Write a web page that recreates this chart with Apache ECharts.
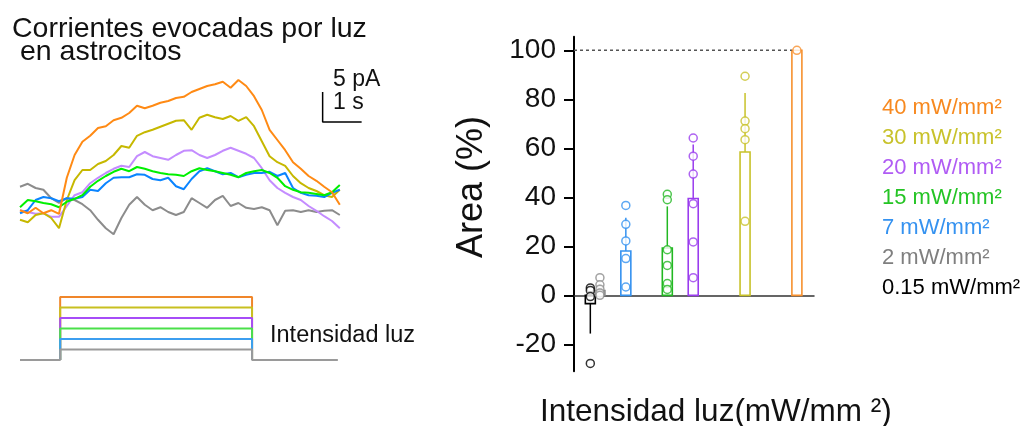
<!DOCTYPE html>
<html>
<head>
<meta charset="utf-8">
<script src="https://cdn.jsdelivr.net/npm/echarts@6/dist/echarts.min.js"></script>
<style>
  html, body { margin: 0; padding: 0; background: #fff; }
  #main { width: 1024px; height: 426px; }
</style>
</head>
<body>
<div id="main"></div>
<script>
// registros (pA) cada 0.2 s
const times = [0, 0.2, 0.4, 0.6, 0.8, 1.0, 1.2, 1.4, 1.6, 1.8, 2.0, 2.2, 2.4, 2.6, 2.8, 3.0, 3.2, 3.4, 3.6, 3.8, 4.0,
  4.2, 4.4, 4.6, 4.8, 5.0, 5.2, 5.4, 5.6, 5.8, 6.0, 6.2, 6.4, 6.6, 6.8, 7.0, 7.2, 7.4, 7.6, 7.8, 8.0, 8.2];
const traceGray = [4.2, 4.7, 4.0, 3.7, 2.3, 1.5, 2.3, 2.0, 1.3, 0.3, -1.3, -2.7, -3.7, -1.0, 1.2, 2.5, 1.2, 0.3, 0.8, 0, -0.5,
  0, 2.3, 1.5, 0.7, 2.0, 2.7, 1.0, 1.5, 0.7, 0.5, 0.8, 0.3, -2.2, 0.2, 0.3, 0, 0.3, 0, 0.2, 0.3, -0.5];
const traceBlue = [-0.2, 0.3, 2.0, 2.5, 2.3, 1.8, 2.3, 2.2, 2.5, 3.7, 3.5, 4.8, 5.7, 5.8, 5.8, 6.3, 6.2, 5.5, 5.3, 5.7, 4.3,
  3.8, 5.5, 6.8, 7.3, 6.8, 6.3, 6.5, 5.8, 6.2, 6.5, 6.5, 6.7, 6.0, 6.5, 4.0, 3.2, 2.8, 2.7, 2.5, 3.2, 3.7];
const traceGreen = [0.8, 2.0, 1.8, 1.5, 1.3, 0.8, 1.7, 2.2, 2.8, 4.2, 5.2, 6.0, 6.7, 7.2, 6.8, 7.5, 7.2, 6.8, 6.5, 6.3, 6.2,
  6.0, 6.8, 7.3, 7.0, 6.8, 6.5, 6.2, 5.8, 6.5, 6.8, 7.0, 6.5, 5.7, 4.3, 3.7, 3.3, 3.2, 3.0, 2.8, 3.3, 4.5];
const tracePurple = [0.3, 0, -0.3, -0.2, -0.8, -0.8, 1.0, 2.8, 3.3, 4.8, 5.7, 6.5, 7.2, 7.7, 7.5, 9.3, 10.0, 9.3, 9.0, 8.7, 9.5,
  10.2, 10.3, 9.5, 9.0, 9.5, 10.2, 10.7, 10.2, 9.7, 9.0, 7.3, 5.3, 4.0, 3.2, 2.5, 2.0, 1.0, 0.2, -0.7, -1.5, -2.7];
const traceYellow = [-1.3, -1.7, -0.5, -0.2, -1.0, -2.7, 2.0, 5.3, 7.0, 7.0, 8.0, 8.5, 9.5, 11.0, 10.7, 12.7, 13.3, 13.7, 14.2, 14.7, 15.2,
  15.3, 13.7, 15.7, 16.2, 15.8, 15.5, 16.0, 15.2, 15.8, 14.3, 11.8, 9.3, 8.3, 7.7, 6.0, 4.8, 4.0, 3.5, 2.8, 2.5, 3.7];
const traceOrange = [0.3, -0.2, 0.7, -0.2, 0.3, -0.3, 5.7, 9.5, 11.7, 12.7, 14.0, 14.3, 15.3, 15.7, 16.5, 17.7, 17.3, 17.7, 18.2, 18.5, 19.0,
  19.2, 20.0, 20.5, 21.0, 21.3, 21.7, 20.7, 22.0, 21.0, 19.3, 17.0, 13.7, 12.0, 10.3, 8.3, 7.2, 6.0, 5.2, 4.2, 3.3, 1.2];

// pulso de luz
const stimOn = 1.03;
const stimOff = 5.95;
const stimEnd = 8.15;
const stimLevels = [6, 5, 4, 3, 2, 1];   // naranja ... gris

// barra de escala: 1 s, 5 pA
const scaleT = 7.76;
const scalePA = 15;

// area (%)
const intensities = [0.15, 2, 7, 15, 20, 30, 40];
const areaMean = [-3.4, 2, 18.1, 19.3, 39.5, 58.5, 100];
const areaSD = [12.2, 2.5, 13.6, 17, 22, 24.1, 0];
const areaPoints = [
  [3, 2, -0.5, -27.8],
  [7.2, 4.3, 2.5, 1, 0],
  [36.7, 29, 22.2, 15, 3.4],
  [41.2, 39, 18.6, 12.2, 4.8, 2.4],
  [64.2, 56.8, 49.5, 37.4, 21.8, 7.2],
  [89.4, 71.1, 68, 63.5, 30.2],
  [100]
];
const yTicks = [-20, 0, 20, 40, 60, 80, 100];

const legendLabels = ['40 mW/mm²', '30 mW/mm²', '20 mW/mm²', '15 mW/mm²', '7 mW/mm²', '2 mW/mm²', '0.15 mW/mm²'];

const barColors = ['#000000', '#8c8c8c', '#3592f0', '#22b822', '#9a3cee', '#c8c22a', '#f7902e'];
const legendColors = ['#f7891f', '#c8c22b', '#b05cf4', '#24c424', '#3592f0', '#7f7f7f', '#000000'];
const traceColors = { gray: '#8c8c8c', blue: '#0a84ff', green: '#00f000', purple: '#c48cff', yellow: '#c6b800', orange: '#ff8a14' };
const stimColors = ['#f0862a', '#c8c020', '#a64cf7', '#4ae04a', '#3c9ef0', '#9a9a9a'];

const FONT = 'Liberation Sans, Arial, Helvetica, sans-serif';

function zipT(vals) {
  return vals.map((v, i) => [times[i], v]);
}

const myChart = echarts.init(document.getElementById('main'));

const series = [];

// trazas
[['gray', traceGray], ['purple', tracePurple], ['yellow', traceYellow], ['blue', traceBlue], ['green', traceGreen], ['orange', traceOrange]]
  .forEach(([name, vals]) => {
    series.push({
      type: 'line', xAxisIndex: 0, yAxisIndex: 0, data: zipT(vals),
      symbol: 'none', lineStyle: { color: traceColors[name], width: 2 }, silent: true
    });
  });

// barra de escala
series.push({
  type: 'line', xAxisIndex: 0, yAxisIndex: 0, symbol: 'none', silent: true,
  data: [[scaleT, scalePA + 5], [scaleT, scalePA], [scaleT + 1, scalePA]],
  lineStyle: { color: '#000', width: 1.5 }
});

// pulsos de luz
stimLevels.forEach((lv, i) => {
  let data = [[stimOn, 0], [stimOn, lv], [stimOff, lv], [stimOff, 0]];
  if (lv === 1) data = [[0, 0]].concat(data, [[stimEnd, 0]]);
  series.push({
    type: 'line', xAxisIndex: 1, yAxisIndex: 1, data: data, symbol: 'none', silent: true,
    lineStyle: { color: stimColors[i], width: 2 }
  });
});

// linea punteada 100 %
series.push({
  type: 'line', xAxisIndex: 2, yAxisIndex: 2, symbol: 'none', silent: true,
  data: [[-3, 100], [39, 100]],
  lineStyle: { color: '#555', width: 1.5, type: [3, 3] }
});

// barras huecas + error
series.push({
  type: 'custom', xAxisIndex: 2, yAxisIndex: 2, silent: true,
  data: intensities.map((x, i) => [x, areaMean[i], areaSD[i]]),
  renderItem: function (params, api) {
    const x = api.value(0), m = api.value(1), sd = api.value(2);
    const c = barColors[params.dataIndex];
    const p0 = api.coord([x, 0]);
    const p1 = api.coord([x, m]);
    const pe = api.coord([x, m < 0 ? m - sd : m + sd]);
    const w = 10;
    return {
      type: 'group',
      children: [
        { type: 'line', shape: { x1: p1[0], y1: p1[1], x2: pe[0], y2: pe[1] }, style: { stroke: c, lineWidth: 1.5 } },
        {
          type: 'rect',
          shape: { x: p0[0] - w / 2, y: Math.min(p0[1], p1[1]), width: w, height: Math.abs(p1[1] - p0[1]) },
          style: { fill: 'rgba(255,255,255,0)', stroke: c, lineWidth: 1.6 }
        }
      ]
    };
  }
});

// puntos individuales
areaPoints.forEach((pts, i) => {
  series.push({
    type: 'scatter', xAxisIndex: 2, yAxisIndex: 2, silent: true, z: 5,
    data: pts.map(v => [intensities[i], v]),
    symbol: 'circle', symbolSize: 8,
    itemStyle: { color: '#fff', borderColor: barColors[i], borderWidth: 1.5 }
  });
});

const graphic = [
  { type: 'text', x: 12, y: 29, style: { text: 'Corrientes evocadas por luz', font: '28.5px ' + FONT, fill: '#111', verticalAlign: 'middle' } },
  { type: 'text', x: 12, y: 52, style: { text: ' en astrocitos', font: '28.5px ' + FONT, fill: '#111', verticalAlign: 'middle' } },
  { type: 'text', x: 333, y: 80, style: { text: '5 pA', font: '23px ' + FONT, fill: '#111', verticalAlign: 'middle' } },
  { type: 'text', x: 333, y: 103, style: { text: '1 s', font: '23px ' + FONT, fill: '#111', verticalAlign: 'middle' } },
  { type: 'text', x: 270, y: 336, style: { text: 'Intensidad luz', font: '23.5px ' + FONT, fill: '#111', verticalAlign: 'middle' } },
  { type: 'text', x: 472, y: 187, rotation: Math.PI / 2, style: { text: 'Area (%)', font: '36px ' + FONT, fill: '#111', align: 'center', verticalAlign: 'middle' } },
  { type: 'text', x: 540, y: 412, style: { text: 'Intensidad luz(mW/mm ²)', font: '31.5px ' + FONT, fill: '#111', verticalAlign: 'middle' } }
];
legendLabels.forEach((t, i) => {
  graphic.push({ type: 'text', x: 882, y: 108 + i * 30, style: { text: t, font: '22px ' + FONT, fill: legendColors[i], verticalAlign: 'middle' } });
});

const option = {
  animation: false,
  backgroundColor: '#fff',
  grid: [
    { left: 20, top: 62, width: 351, height: 186, outerBoundsMode: 'none' },
    { left: 20, top: 291.75, width: 351, height: 73.5, outerBoundsMode: 'none' },
    { left: 574, top: 36.8, width: 240, height: 334.5, outerBoundsMode: 'none' }
  ],
  xAxis: [
    { type: 'value', gridIndex: 0, min: 0, max: 9, show: false },
    { type: 'value', gridIndex: 1, min: 0, max: 9, show: false },
    {
      type: 'value', gridIndex: 2, min: -3, max: 43.3,
      axisLine: { show: true, onZero: true, lineStyle: { color: '#333', width: 1.5 } },
      axisTick: { show: false }, axisLabel: { show: false }, splitLine: { show: false }
    }
  ],
  yAxis: [
    { type: 'value', gridIndex: 0, min: -6, max: 25, show: false },
    { type: 'value', gridIndex: 1, min: -0.5, max: 6.5, show: false },
    {
      type: 'value', gridIndex: 2, min: -31, max: 105.5,
      axisLine: { show: true, onZero: false, lineStyle: { color: '#000', width: 2 } },
      axisTick: { show: true, inside: false, length: 10, customValues: yTicks, lineStyle: { color: '#000', width: 2 } },
      axisLabel: { show: true, margin: 18, customValues: yTicks, fontSize: 28, fontFamily: FONT, color: '#111' },
      splitLine: { show: false }
    }
  ],
  graphic: graphic,
  series: series
};

myChart.setOption(option);
</script>
</body>
</html>
